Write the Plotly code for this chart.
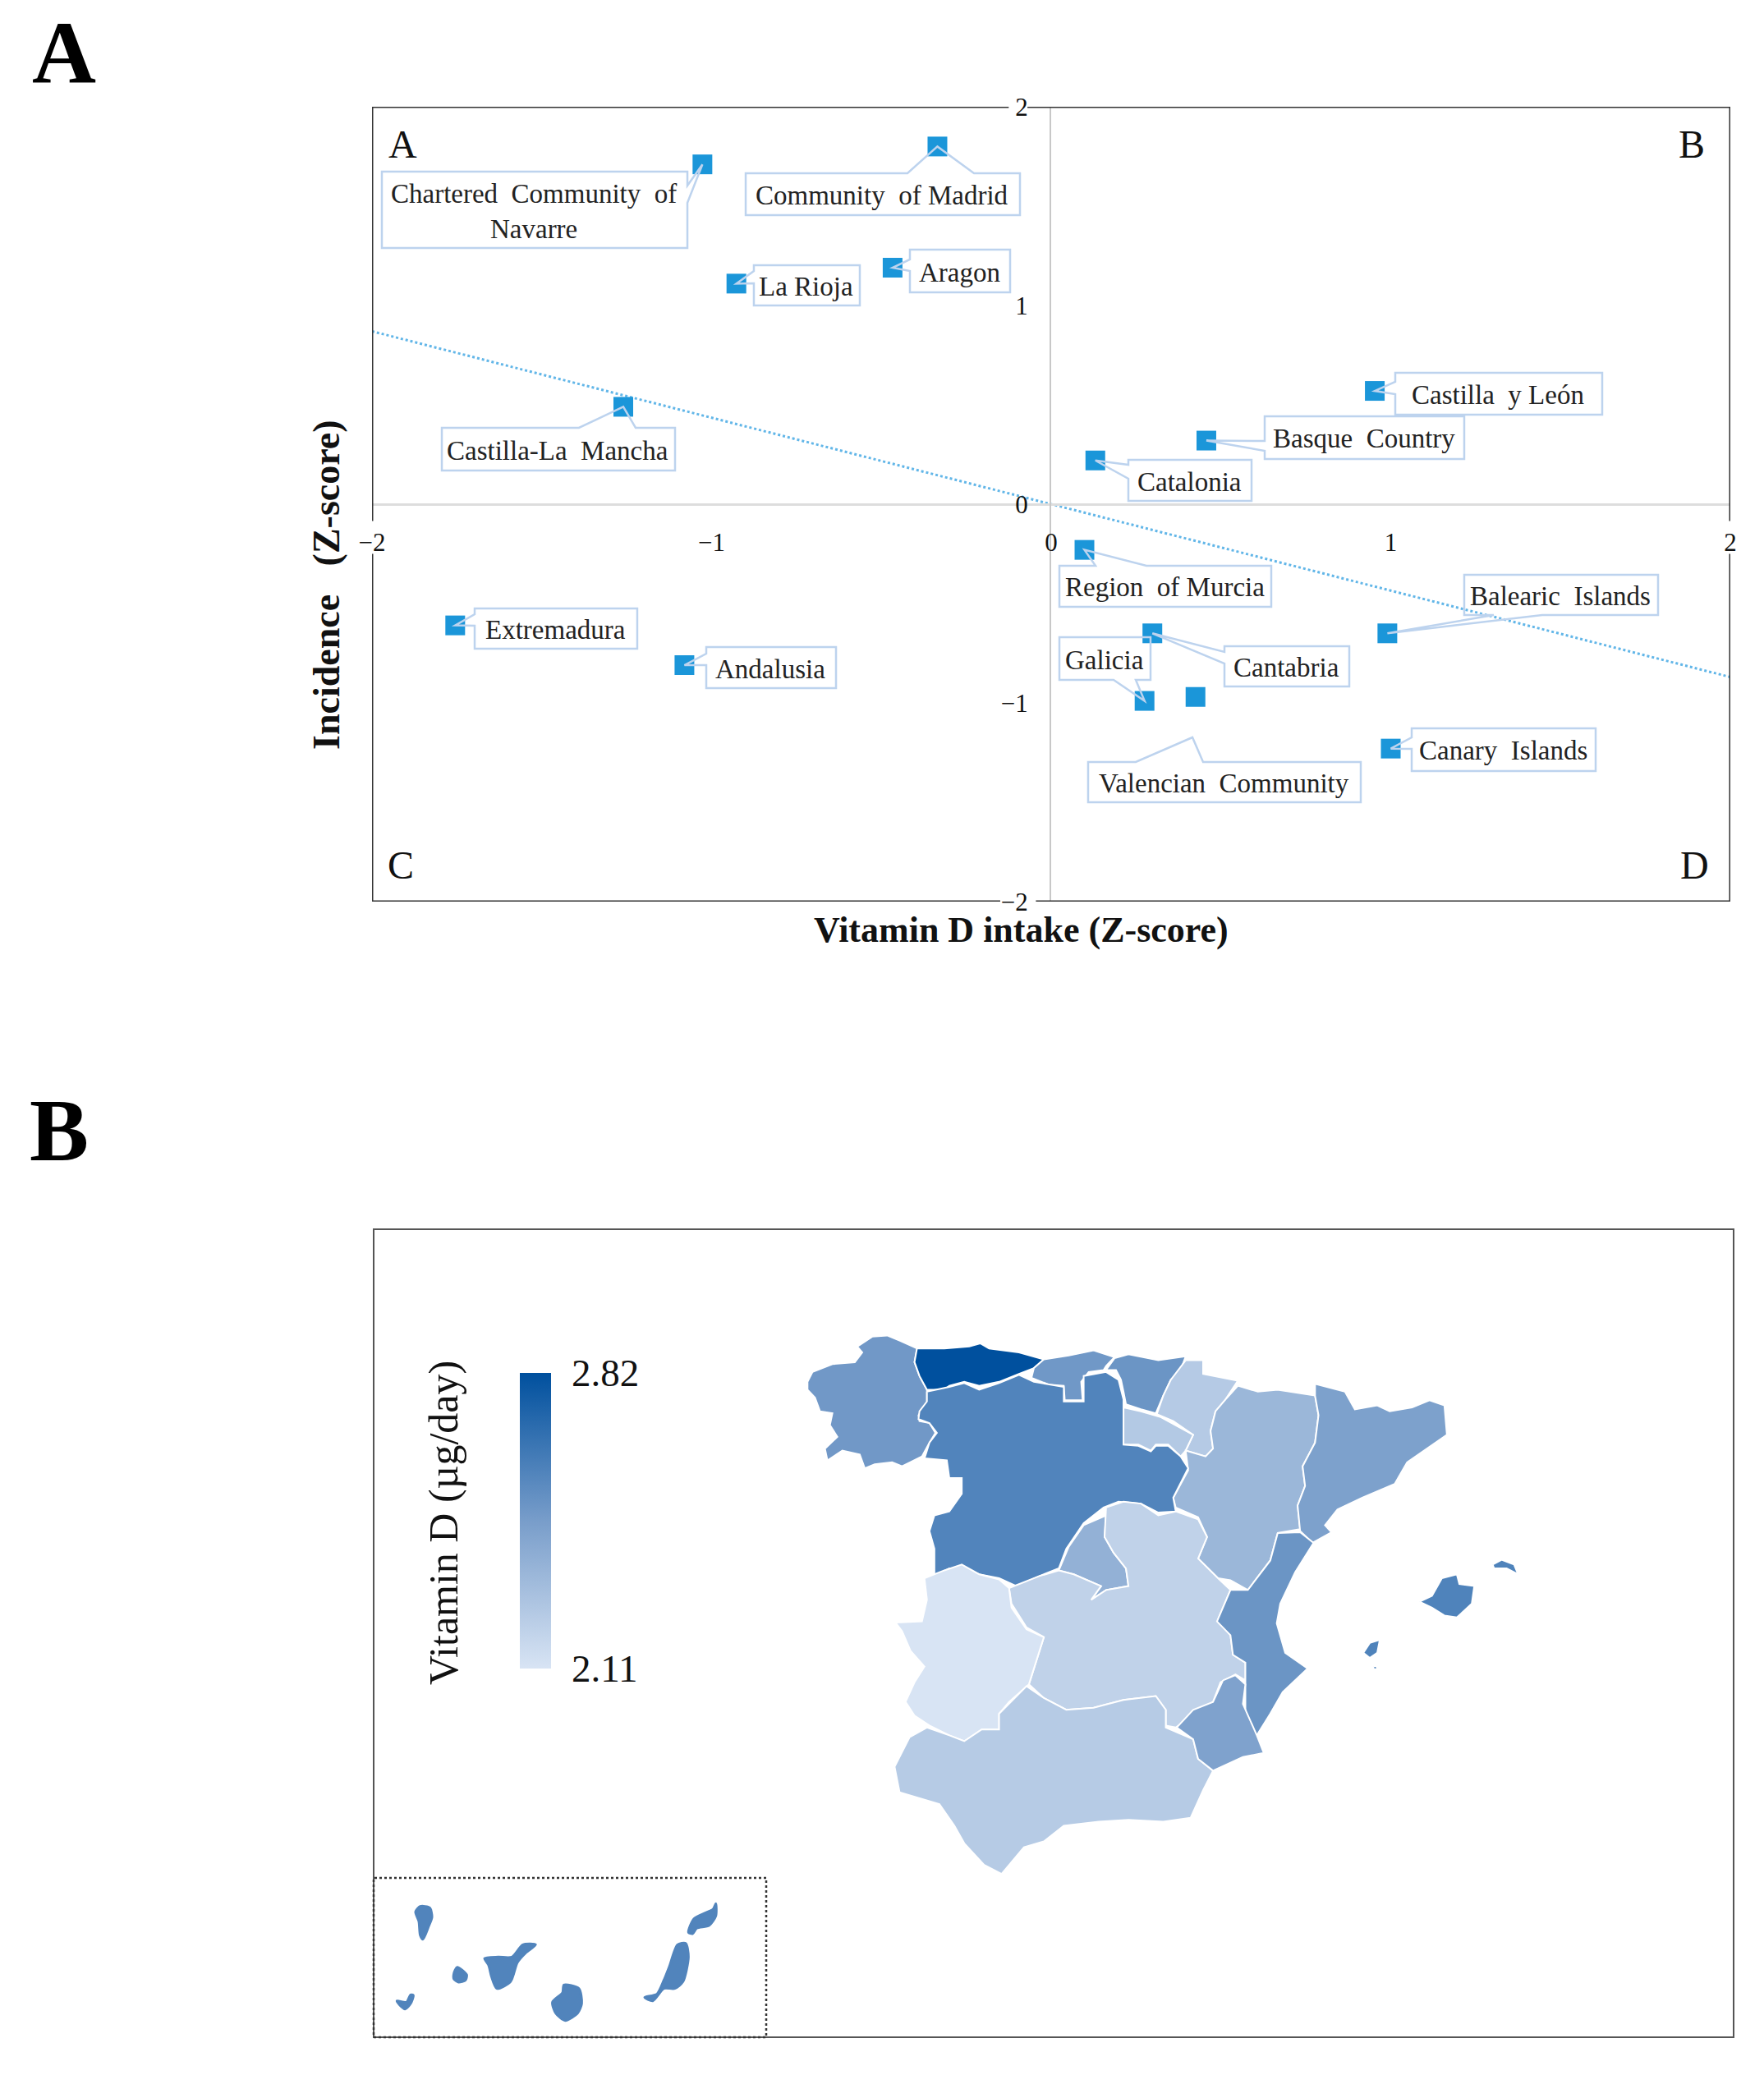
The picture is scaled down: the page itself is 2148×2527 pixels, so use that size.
import plotly.graph_objects as go
from plotly.colors import sample_colorscale

W, H = 2148, 2527
FONT = "Liberation Serif"

# Panel A: scatter values (Z-scores)
REGIONS = ["Chartered  Community  of<br>Navarre", "Community  of Madrid", "La Rioja", "Aragon",
           "Castilla-La  Mancha", "Castilla  y León", "Basque  Country", "Catalonia",
           "Region  of Murcia", "Cantabria", "Balearic  Islands", "Galicia",
           "Valencian  Community", "Canary  Islands", "Extremadura", "Andalusia"]
VIT_D_Z = [-1.027, -0.335, -0.927, -0.467, -1.26, 0.953, 0.457, 0.13,
           0.098, 0.298, 0.99, 0.275, 0.425, 1.0, -1.755, -1.08]
INCIDENCE_Z = [1.71, 1.80, 1.11, 1.19, 0.49, 0.57, 0.32, 0.22,
               -0.23, -0.65, -0.65, -0.99, -0.97, -1.23, -0.61, -0.81]
TREND_X = [-2, 2]
TREND_Y = [0.87, -0.87]
AXIS_TICKS = [-2, -1, 0, 1, 2]

# callout boxes in picture pixels: x0, x1, y0, y1, side of the wedge, wedge start, wedge end
CALLOUTS = [
    (464, 836, 209, 302, "r", 226, 247),
    (907, 1241, 211, 262, "t", 1104, 1185),
    (917, 1046, 323, 372, "l", 330, 345),
    (1107, 1229, 304, 356, "l", 316, 330),
    (537, 821, 521, 573, "t", 704, 773),
    (1698, 1950, 454, 505, "l", 465, 480),
    (1539, 1782, 507, 559, "l", 537, 549),
    (1373, 1523, 560, 610, "l", 566, 583),
    (1289, 1547, 689, 739, "t", 1333, 1395),
    (1490, 1642, 787, 836, "l", 794, 808),
    (1782, 2018, 700, 749, "b", 1818, 1877),
    (1289, 1400, 776, 828, "b", 1355, 1382),
    (1324, 1656, 928, 977, "t", 1382, 1464),
    (1718, 1942, 887, 939, "l", 898, 912),
    (577, 775, 741, 790, "l", 748, 762),
    (859, 1017, 788, 838, "l", 796, 810),
]
FLOATING_TIPS = {"Valencian  Community": (1451, 898)}

# Panel B: region outlines
GALICIA = [(55,215),(65,190),(105,170),(150,165),(165,140),(155,125),(185,100),(215,97),(240,110),(275,130),(270,165),(280,200),(295,235),(295,270),(278,300),(280,315),(300,320),(312,345),(300,370),(285,405),(245,430),(225,420),(190,425),(170,435),(160,400),(125,390),(95,415),(90,385),(115,355),(100,325),(105,295),(80,290),(70,255),(55,235)]
ASTURIAS = [(275,130),(330,130),(380,125),(402,117),(420,130),(480,140),(530,158),(510,180),(480,195),(440,215),(400,225),(370,215),(340,225),(330,235),(295,235),(280,200),(270,165)]
CANTABRIA = [(530,158),(580,148),(630,135),(672,152),(655,175),(650,185),(620,190),(605,215),(608,262),(572,262),(570,225),(540,222),(505,205),(510,180)]
BASQUE = [(672,155),(700,145),(760,160),(815,150),(805,185),(785,210),(770,250),(755,295),(725,285),(695,272),(690,240),(685,210),(675,185),(655,185)]
NAVARRA = [(815,160),(850,160),(850,195),(920,212),(895,260),(875,290),(865,340),(870,385),(855,405),(815,390),(830,350),(790,315),(757,297),(770,250),(785,210)]
LA_RIOJA = [(690,280),(725,290),(765,305),(830,350),(815,390),(805,405),(780,375),(755,375),(745,390),(720,375),(690,375)]
ARAGON = [(920,225),(960,240),(1000,235),(1075,250),(1082,300),(1075,370),(1050,430),(1055,480),(1040,530),(1045,590),(1000,600),(985,670),(940,745),(905,720),(880,715),(840,665),(858,610),(840,560),(795,535),(790,510),(820,440),(815,390),(855,405),(870,385),(865,340),(875,290),(895,260)]
CATALONIA = [(1075,220),(1135,240),(1155,285),(1200,275),(1225,290),(1270,280),(1305,262),(1335,275),(1340,350),(1300,385),(1260,420),(1235,475),(1170,510),(1120,540),(1095,580),(1108,598),(1070,625),(1045,595),(1040,530),(1055,480),(1050,430),(1075,370),(1082,300),(1075,250)]
CASTILLA_LEON = [(295,240),(340,228),(370,218),(400,235),(440,218),(480,197),(510,215),(570,228),(570,265),(610,265),(610,200),(655,190),(680,210),(690,260),(690,375),(720,378),(745,392),(755,378),(780,378),(805,405),(820,435),(790,510),(795,545),(760,548),(725,525),(680,520),(650,535),(610,575),(575,640),(560,690),(520,710),(475,735),(440,715),(400,705),(370,690),(340,690),(310,710),(310,640),(300,595),(310,555),(340,545),(365,500),(365,460),(340,460),(335,415),(290,410),(300,370),(315,345),(300,320),(278,310),(280,290),(295,265)]
MADRID = [(655,555),(652,610),(670,650),(695,690),(700,735),(655,745),(625,770),(645,735),(590,705),(560,695),(580,635),(610,580)]
LA_MANCHA = [(655,535),(690,520),(725,525),(760,555),(795,545),(840,565),(858,610),(840,665),(880,715),(905,745),(880,820),(905,860),(910,910),(935,930),(935,975),(915,960),(885,980),(870,1030),(795,1095),(775,1090),(775,1050),(755,1015),(690,1025),(630,1045),(575,1050),(530,1020),(500,985),(520,905),(530,865),(495,840),(465,780),(460,740),(520,710),(560,695),(590,705),(645,735),(625,770),(655,745),(700,735),(695,690),(670,650),(652,610)]
EXTREMADURA = [(290,715),(330,695),(365,680),(400,705),(440,718),(460,740),(465,790),(495,845),(530,865),(520,905),(500,985),(460,1030),(440,1060),(440,1100),(405,1100),(370,1130),(340,1115),(300,1090),(270,1065),(252,1030),(270,980),(290,940),(262,900),(245,850),(232,828),(285,825),(295,770)]
ANDALUSIA = [(295,1095),(340,1115),(370,1130),(405,1100),(440,1100),(440,1060),(495,990),(530,1020),(575,1050),(630,1045),(690,1025),(755,1015),(775,1050),(775,1095),(830,1125),(840,1175),(870,1205),(850,1255),(825,1325),(770,1335),(700,1330),(640,1335),(570,1345),(530,1385),(490,1400),(445,1468),(410,1445),(370,1390),(350,1345),(320,1290),(240,1260),(230,1195),(260,1120)]
VALENCIA = [(1000,600),(1045,598),(1072,625),(1035,700),(1005,780),(998,830),(1015,905),(1060,945),(1010,1005),(985,1060),(958,1115),(935,1070),(935,975),(935,930),(910,910),(905,860),(878,825),(905,745),(940,745),(985,670)]
MURCIA = [(890,975),(915,962),(935,985),(930,1035),(958,1115),(972,1160),(930,1170),(905,1185),(870,1205),(840,1175),(830,1125),(797,1095),(830,1050),(870,1030)]
MALLORCA = [(1285,775),(1310,760),(1330,715),(1360,705),(1365,730),(1395,735),(1390,780),(1360,815),(1335,810),(1310,790)]
MENORCA = [(1432,680),(1450,668),(1475,680),(1483,705),(1460,690),(1435,690)]
IBIZA = [(1172,905),(1185,880),(1205,872),(1200,905),(1185,918)]
FORMENTERA = [(1192,940),(1198,938),(1200,946),(1193,947)]

EL_HIERRO = [(130,620),(165,625),(180,598),(190,600),(180,630),(160,650),(140,635)]
LA_PALMA = [(198,295),(215,275),(250,280),(258,315),(245,350),(225,395),(215,380),(210,330)]
LA_GOMERA = [(338,520),(350,497),(385,525),(380,545),(355,552),(338,540)]
TENERIFE = [(450,465),(500,460),(550,460),(590,415),(637,415),(600,445),(570,480),(545,550),(495,575),(475,530),(465,490)]
GRAN_CANARIA = [(698,625),(735,590),(740,562),(795,575),(805,630),(790,665),(745,692),(710,665)]
FUERTEVENTURA = [(1035,607),(1080,595),(1105,545),(1125,495),(1155,415),(1185,410),(1195,460),(1175,550),(1145,575),(1105,575),(1065,620)]
LANZAROTE = [(1195,370),(1215,320),(1260,297),(1285,285),(1295,265),(1295,310),(1270,345),(1225,355),(1210,375)]

# vitamin D intake per region
MAP_REGIONS = [
    ("Galicia", [GALICIA], 2.486), ("Asturias", [ASTURIAS], 2.82), ("Cantabria", [CANTABRIA], 2.49),
    ("Basque Country", [BASQUE], 2.503), ("Navarre", [NAVARRA], 2.24), ("La Rioja", [LA_RIOJA], 2.247),
    ("Aragon", [ARAGON], 2.336), ("Catalonia", [CATALONIA], 2.446), ("Castilla y León", [CASTILLA_LEON], 2.58),
    ("Madrid", [MADRID], 2.365), ("Castilla-La Mancha", [LA_MANCHA], 2.20), ("Extremadura", [EXTREMADURA], 2.11),
    ("Andalusia", [ANDALUSIA], 2.236), ("Valencia", [VALENCIA], 2.503), ("Murcia", [MURCIA], 2.44),
    ("Balearic Islands", [MALLORCA, MENORCA, IBIZA, FORMENTERA], 2.586),
]
CANARY_ISLANDS = [EL_HIERRO, LA_PALMA, LA_GOMERA, TENERIFE, GRAN_CANARIA, FUERTEVENTURA, LANZAROTE]
CANARY_VALUE = 2.58
VIT_MIN, VIT_MAX = 2.11, 2.82
SCALE = [[0, "#d8e4f4"], [0.5, "#789dca"], [1, "#00509e"]]


def fx(px):
    return px / W


def fy(py):
    return 1 - py / H


def data_x(px):
    return (px - 1279) / 413.5


def data_y(py):
    return (614 - py) / 242


def region_color(value):
    return sample_colorscale(SCALE, (value - VIT_MIN) / (VIT_MAX - VIT_MIN))[0]


def outline_xy(polys):
    xs, ys = [], []
    for poly in polys:
        xs += [p[0] for p in poly] + [poly[0][0], None]
        ys += [p[1] for p in poly] + [poly[0][1], None]
    return xs, ys


def callout_path(box, tip):
    x0, x1, y0, y1, side, a, b = box
    x0, x1, y0, y1 = data_x(x0), data_x(x1), data_y(y0), data_y(y1)
    tx, ty = tip
    if side == "t":
        pts = [(x0, y0), (data_x(a), y0), (tx, ty), (data_x(b), y0), (x1, y0), (x1, y1), (x0, y1)]
    elif side == "b":
        pts = [(x0, y0), (x1, y0), (x1, y1), (data_x(b), y1), (tx, ty), (data_x(a), y1), (x0, y1)]
    elif side == "l":
        pts = [(x0, y0), (x1, y0), (x1, y1), (x0, y1), (x0, data_y(b)), (tx, ty), (x0, data_y(a))]
    else:
        pts = [(x0, y0), (x1, y0), (x1, data_y(a)), (tx, ty), (x1, data_y(b)), (x1, y1), (x0, y1)]
    return "M " + " L ".join(f"{x:.4f},{y:.4f}" for x, y in pts) + " Z"


def label(text, px, py, size, angle=0, color="#111111"):
    return dict(x=fx(px), y=fy(py), xref="paper", yref="paper", xanchor="center", yanchor="middle",
                text=text, showarrow=False, textangle=angle, font=dict(family=FONT, size=size, color=color))


fig = go.Figure()

# --- Panel A ---
fig.add_trace(go.Scatter(x=TREND_X, y=TREND_Y, mode="lines", showlegend=False,
                         line=dict(color="#62b6e8", width=3, dash="dot")))
fig.add_trace(go.Scatter(x=VIT_D_Z, y=INCIDENCE_Z, mode="markers", showlegend=False,
                         marker=dict(symbol="square", size=24, color="#1b96d9")))

shapes = []
annotations = []
for name, box, vx, vy in zip(REGIONS, CALLOUTS, VIT_D_Z, INCIDENCE_Z):
    if name in FLOATING_TIPS:
        tip = (data_x(FLOATING_TIPS[name][0]), data_y(FLOATING_TIPS[name][1]))
    else:
        tip = (vx, vy)
    shapes.append(dict(type="path", path=callout_path(box, tip), xref="x", yref="y",
                       line=dict(color="#bdd3ee", width=2.5)))
    annotations.append(label(name, (box[0] + box[1]) / 2, (box[2] + box[3]) / 2 + 1.5, 33, color="#222222"))

# frame with gaps where the tick labels cut through it
frame = dict(color="#333333", width=3)
for x0, y0, x1, y1 in [(-2, 2, -0.125, 2), (-0.07, 2, 2, 2), (2, 2, 2, -0.085), (2, -0.25, 2, -2),
                       (2, -2, -0.045, -2), (-0.15, -2, -2, -2), (-2, -2, -2, -0.25), (-2, -0.085, -2, 2)]:
    shapes.append(dict(type="line", x0=x0, y0=y0, x1=x1, y1=y1, xref="x", yref="y", line=frame))

for text, px, py in [("A", 490, 175), ("B", 2060, 175), ("C", 488, 1053), ("D", 2063, 1053)]:
    annotations.append(label(text, px, py, 48))

annotations.append(label("<b>Vitamin D intake (Z-score)</b>", 1243, 1132, 44))
annotations.append(label("<b>Incidence   (Z-score)</b>", 397, 712, 46, angle=-90))
annotations.append(label("<b>A</b>", 78, 64, 108, color="#000000"))
annotations.append(label("<b>B</b>", 72, 1376, 108, color="#000000"))

# --- Panel B ---
for name, polys, value in MAP_REGIONS:
    xs, ys = outline_xy(polys)
    fig.add_trace(go.Scatter(x=xs, y=ys, xaxis="x2", yaxis="y2", mode="lines", fill="toself", name=name,
                             fillcolor=region_color(value), line=dict(color="white", width=2), showlegend=False))
xs, ys = outline_xy(CANARY_ISLANDS)
fig.add_trace(go.Scatter(x=xs, y=ys, xaxis="x3", yaxis="y3", mode="lines", fill="toself", showlegend=False,
                         fillcolor=region_color(CANARY_VALUE),
                         line=dict(color=region_color(CANARY_VALUE), width=3, shape="spline", smoothing=0.7)))

# hidden trace that only carries the colour bar
fig.add_trace(go.Scatter(x=[None, None], y=[None, None], mode="markers", showlegend=False,
                         marker=dict(color=[VIT_MIN, VIT_MAX], cmin=VIT_MIN, cmax=VIT_MAX, colorscale=SCALE,
                                     colorbar=dict(x=fx(633), xanchor="left", y=fy(1852), yanchor="middle",
                                                   thickness=38, thicknessmode="pixels",
                                                   len=360, lenmode="pixels", ypad=0, xpad=0,
                                                   outlinewidth=0, ticks="outside", ticklen=16,
                                                   tickcolor="rgba(0,0,0,0)",
                                                   tickvals=[VIT_MIN, VIT_MAX], ticktext=["2.11", "2.82"],
                                                   tickfont=dict(family=FONT, size=47, color="#111111")))))

annotations.append(label("Vitamin D (µg/day)", 540, 1855, 50, angle=-90))

shapes.append(dict(type="rect", xref="paper", yref="paper", x0=fx(455), x1=fx(2111), y0=fy(2481), y1=fy(1497),
                   line=dict(color="#555555", width=2)))
shapes.append(dict(type="rect", xref="paper", yref="paper", x0=fx(455), x1=fx(933), y0=fy(2481), y1=fy(2287),
                   line=dict(color="#333333", width=2.5, dash="dot")))

hidden = dict(visible=False, fixedrange=True)
fig.update_layout(
    width=W, height=H, margin=dict(l=0, r=0, t=0, b=0, autoexpand=False),
    paper_bgcolor="white", plot_bgcolor="rgba(0,0,0,0)", showlegend=False,
    shapes=shapes, annotations=annotations,
    xaxis=dict(domain=[fx(453), fx(2107)], range=[-2, 2], anchor="free", position=fy(614),
               showgrid=False, zeroline=False, showline=True, linecolor="#dddddd", linewidth=3,
               tickvals=AXIS_TICKS, ticks="", ticklabelstandoff=18,
               tickfont=dict(family=FONT, size=31, color="#111111")),
    yaxis=dict(domain=[fy(1098), fy(130)], range=[-2, 2], anchor="free", position=fx(1279),
               showgrid=False, zeroline=False, showline=True, linecolor="#c8c8c8", linewidth=2,
               tickvals=AXIS_TICKS, ticks="", ticklabelstandoff=20,
               tickfont=dict(family=FONT, size=31, color="#111111")),
    xaxis2=dict(domain=[fx(950), fx(1900)], range=[0, 1568], anchor="y2", **hidden),
    yaxis2=dict(domain=[fy(2330), fy(1580)], range=[1568, 0], anchor="x2", **hidden),
    xaxis3=dict(domain=[fx(440), fx(960)], range=[0, 1560], anchor="y3", **hidden),
    yaxis3=dict(domain=[fy(2490), fy(2230)], range=[780, 0], anchor="x3", **hidden),
)

fig.write_html("out.html", config={"displayModeBar": False}, post_script="document.body.style.margin='0';")
